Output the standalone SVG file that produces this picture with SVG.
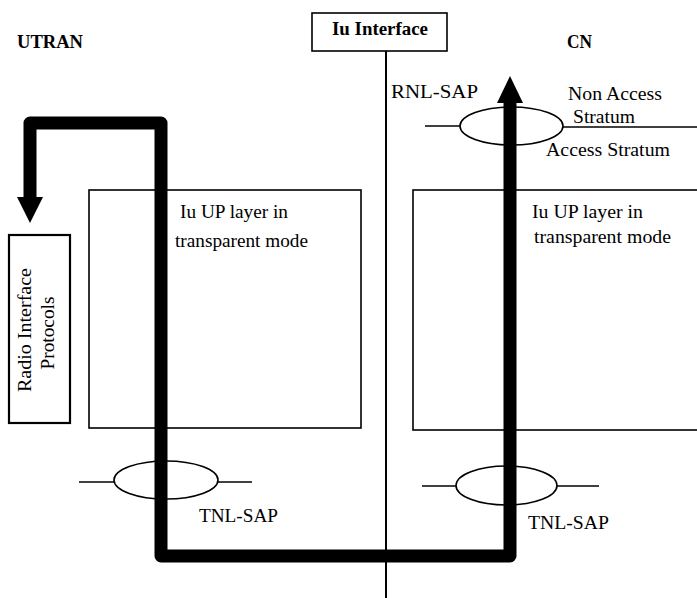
<svg xmlns="http://www.w3.org/2000/svg" width="697" height="598" viewBox="0 0 697 598">
<style>
  .t { font-family: "Liberation Serif", "Times New Roman", serif; font-size: 18px; fill: #000; }
  .b { font-weight: bold; }
  .box { fill: none; stroke: #000; stroke-width: 1.6; }
  .thin { fill: none; stroke: #000; stroke-width: 1.6; }
  .bar { fill: none; stroke: #000; stroke-width: 13; stroke-linejoin: round; }
</style>
<rect width="697" height="598" fill="#fff"/>

<g id="utran-label"><text class="t b" x="17" y="48" textLength="66" lengthAdjust="spacingAndGlyphs">UTRAN</text></g>
<g id="cn-label"><text class="t b" x="567" y="48" textLength="25" lengthAdjust="spacingAndGlyphs">CN</text></g>

<g id="iu-interface">
  <rect class="box" x="312" y="13" width="135" height="38"/>
  <text class="t b" x="332" y="35" textLength="96" lengthAdjust="spacingAndGlyphs">Iu Interface</text>
</g>

<g id="rnl-sap-label"><text class="t" x="391" y="98" textLength="87" lengthAdjust="spacingAndGlyphs">RNL-SAP</text></g>

<g id="rnl-sap">
  <line class="thin" x1="425" y1="126" x2="460" y2="126"/>
  <ellipse class="thin" cx="511.5" cy="126" rx="51.5" ry="19"/>
  <line class="thin" x1="563" y1="127" x2="697" y2="127"/>
  <text class="t" x="568" y="100" textLength="94" lengthAdjust="spacingAndGlyphs">Non Access</text>
  <text class="t" x="573" y="123" textLength="62" lengthAdjust="spacingAndGlyphs">Stratum</text>
  <text class="t" x="546" y="156" textLength="124" lengthAdjust="spacingAndGlyphs">Access Stratum</text>
</g>

<g id="utran-iu-up">
  <rect class="box" x="89" y="190" width="272" height="238"/>
  <text class="t" x="180" y="218" textLength="108" lengthAdjust="spacingAndGlyphs">Iu UP layer in</text>
  <text class="t" x="175" y="247" textLength="133" lengthAdjust="spacingAndGlyphs">transparent mode</text>
</g>

<g id="cn-iu-up">
  <rect class="box" x="413" y="190" width="300" height="240"/>
  <text class="t" x="532" y="218" textLength="111" lengthAdjust="spacingAndGlyphs">Iu UP layer in</text>
  <text class="t" x="534" y="243" textLength="137" lengthAdjust="spacingAndGlyphs">transparent mode</text>
</g>

<g id="radio-interface-protocols">
  <rect x="9" y="235" width="61" height="188" fill="none" stroke="#000" stroke-width="2.2"/>
  <text class="t" transform="translate(31,330) rotate(-90)" x="0" y="0" text-anchor="middle" textLength="124" lengthAdjust="spacingAndGlyphs">Radio Interface</text>
  <text class="t" transform="translate(54,333) rotate(-90)" x="0" y="0" text-anchor="middle" textLength="73" lengthAdjust="spacingAndGlyphs">Protocols</text>
</g>

<g id="utran-tnl-sap">
  <line class="thin" x1="79" y1="482" x2="114" y2="482"/>
  <ellipse class="thin" cx="166" cy="480" rx="52" ry="19"/>
  <line class="thin" x1="218" y1="482" x2="252" y2="482"/>
  <text class="t" x="199" y="522" textLength="79" lengthAdjust="spacingAndGlyphs">TNL-SAP</text>
</g>

<g id="cn-tnl-sap">
  <line class="thin" x1="422" y1="486" x2="456" y2="486"/>
  <ellipse class="thin" cx="506.5" cy="485.5" rx="50.5" ry="19.5"/>
  <line class="thin" x1="557" y1="486" x2="599" y2="486"/>
  <text class="t" x="528" y="529" textLength="81" lengthAdjust="spacingAndGlyphs">TNL-SAP</text>
</g>

<g id="connectors">
  <line x1="386" y1="51" x2="386" y2="598" stroke="#000" stroke-width="2"/>
  <path class="bar" d="M30 198 L30 123 L161 123 L161 556 L510 556 L510 100"/>
  <polygon points="17,197 43,197 30,223" fill="#000"/>
  <polygon points="497,103 523,103 510,76" fill="#000"/>
</g>
</svg>
